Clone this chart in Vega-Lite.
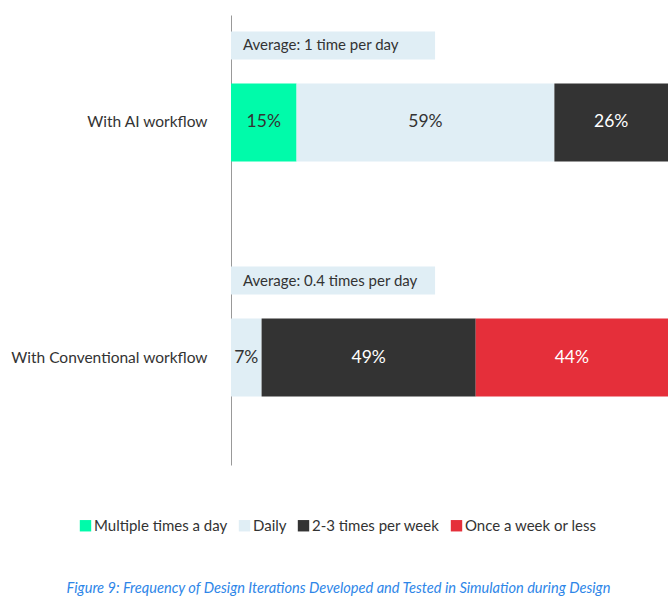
{
  "$schema": "https://vega.github.io/schema/vega-lite/v6.json",
  "width": 437,
  "height": 450,
  "autosize": {"type": "none"},
  "padding": {"left": 231, "top": 15, "right": 2, "bottom": 133},
  "config": {
    "view": {"stroke": null},
    "font": "Lato",
    "text": {"font": "Lato"}
  },
  "title": {
    "text": "Figure 9: Frequency of Design Iterations Developed and Tested in Simulation during Design",
    "orient": "bottom",
    "anchor": "middle",
    "font": "Lato",
    "fontSize": 14.6,
    "fontStyle": "italic",
    "fontWeight": "normal",
    "color": "#2E86E8",
    "dx": -111,
    "offset": 47
  },
  "layer": [
    {
      "data": {
        "values": [
          {"group": "With AI workflow", "label": "Average: 1 time per day"},
          {"group": "With Conventional workflow", "label": "Average: 0.4 times per day"}
        ]
      },
      "layer": [
        {
          "mark": {"type": "bar", "height": 28, "yOffset": -77, "color": "#E0EEF5"},
          "encoding": {
            "y": {"field": "group", "type": "nominal"},
            "x": {"datum": 0, "type": "quantitative"},
            "x2": {"datum": 0.467}
          }
        },
        {
          "mark": {"type": "text", "align": "left", "baseline": "middle", "dx": 12, "dy": -77, "fontSize": 15, "color": "#333333"},
          "encoding": {
            "y": {"field": "group", "type": "nominal"},
            "x": {"datum": 0, "type": "quantitative"},
            "text": {"field": "label"}
          }
        }
      ]
    },
    {
      "data": {
        "values": [
          {"group": "With AI workflow", "freq": "Multiple times a day", "k": 1, "pct": 0.15},
          {"group": "With AI workflow", "freq": "Daily", "k": 2, "pct": 0.59},
          {"group": "With AI workflow", "freq": "2-3 times per week", "k": 3, "pct": 0.26},
          {"group": "With Conventional workflow", "freq": "Daily", "k": 2, "pct": 0.07},
          {"group": "With Conventional workflow", "freq": "2-3 times per week", "k": 3, "pct": 0.49},
          {"group": "With Conventional workflow", "freq": "Once a week or less", "k": 4, "pct": 0.44}
        ]
      },
      "layer": [
        {
          "mark": {"type": "bar", "height": 78},
          "encoding": {
            "y": {"field": "group", "type": "nominal"},
            "x": {"field": "pct", "type": "quantitative", "stack": "zero"},
            "order": {"field": "k", "type": "quantitative"},
            "color": {
              "field": "freq",
              "type": "nominal",
              "scale": {
                "domain": ["Multiple times a day", "Daily", "2-3 times per week", "Once a week or less"],
                "range": ["#00FBAA", "#E0EEF5", "#333333", "#E52F3A"]
              },
              "legend": {
                "title": null,
                "orient": "none",
                "direction": "horizontal",
                "columns": 4,
                "legendX": -153,
                "legendY": 503,
                "symbolType": "square",
                "symbolSize": 130,
                "symbolStrokeWidth": 0,
                "symbolOpacity": 1,
                "labelFont": "Lato",
                "labelFontSize": 15,
                "labelColor": "#333333",
                "labelOffset": 1,
                "columnPadding": 9,
                "labelLimit": 300
              }
            }
          }
        },
        {
          "mark": {"type": "text", "baseline": "middle", "align": "center", "fontSize": 17.5},
          "encoding": {
            "y": {"field": "group", "type": "nominal"},
            "x": {"field": "pct", "type": "quantitative", "stack": "zero", "bandPosition": 0.5},
            "order": {"field": "k", "type": "quantitative"},
            "text": {"field": "pct", "type": "quantitative", "format": ".0%"},
            "color": {
              "field": "freq",
              "type": "nominal",
              "scale": {
                "domain": ["Multiple times a day", "Daily", "2-3 times per week", "Once a week or less"],
                "range": ["#333333", "#333333", "#FFFFFF", "#FFFFFF"]
              },
              "legend": null
            }
          }
        }
      ],
      "resolve": {"scale": {"color": "independent"}}
    }
  ],
  "encoding": {
    "y": {
      "field": "group",
      "type": "nominal",
      "scale": {"paddingInner": 0.5, "paddingOuter": 0.207},
      "axis": {
        "title": null,
        "ticks": false,
        "domainColor": "#999999",
        "labelFont": "Lato",
        "labelFontSize": 15.5,
        "labelColor": "#333333",
        "labelPadding": 24,
        "labelLimit": 400
      }
    },
    "x": {
      "type": "quantitative",
      "scale": {"domain": [0, 1]},
      "axis": null
    }
  },
  "resolve": {"scale": {"color": "independent"}}
}
